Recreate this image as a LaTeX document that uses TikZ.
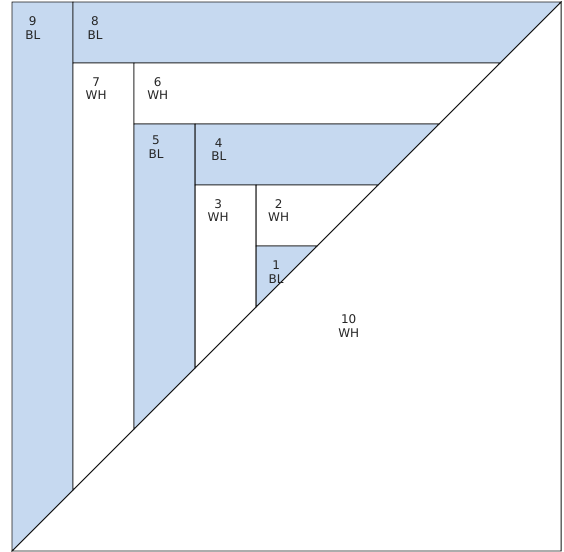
\documentclass[tikz,border=0pt]{standalone}
\usepackage{fontspec}
\setmainfont{DejaVu Sans}
\usetikzlibrary{positioning}
\definecolor{blF}{RGB}{198,217,240}
\definecolor{edge}{RGB}{20,20,20}

\begin{document}
\begin{tikzpicture}[
  x=1cm, y=1cm,
  piece/.style={draw=edge, line width=0.45pt, line join=miter},
  bl/.style={piece, fill=blF},
  wh/.style={piece, fill=white},
  lab/.style={font=\fontsize{5.6}{6.3}\selectfont, align=center, inner sep=0pt, text=black!85},
]
\useasboundingbox (-0.197,-0.016) rectangle (9.049,9.033);

% ---------- pieces ----------
\draw[wh] (0,0) -- (9,0) -- (9,9) -- cycle;
\draw[bl] (0,0) -- (1,1) -- (1,9) -- (0,9) -- cycle;
\draw[bl] (1,8) -- (8,8) -- (9,9) -- (1,9) -- cycle;
\draw[wh] (1,1) -- (2,2) -- (2,8) -- (1,8) -- cycle;
\draw[wh] (2,7) -- (7,7) -- (8,8) -- (2,8) -- cycle;
\draw[bl] (2,2) -- (3,3) -- (3,7) -- (2,7) -- cycle;
\draw[bl] (3,6) -- (6,6) -- (7,7) -- (3,7) -- cycle;
\draw[wh] (3,3) -- (4,4) -- (4,6) -- (3,6) -- cycle;
\draw[wh] (4,5) -- (5,5) -- (6,6) -- (4,6) -- cycle;
\draw[bl] (4,4) -- (5,5) -- (4,5) -- cycle;

% ---------- labels ----------
\node[lab] (p9) at (0.34,8.57) {9\\BL};
\node[lab] (p8) at (1.36,8.57) {8\\BL};
\node[lab] (p7) at (1.38,7.58) {7\\WH};
\node[lab] (p6) at (2.39,7.58) {6\\WH};
\node[lab] (p5) at (2.36,6.62) {5\\BL};
\node[lab] (p4) at (3.39,6.58) {4\\BL};
\node[lab] (p3) at (3.38,5.58) {3\\WH};
\node[lab] (p2) at (4.37,5.58) {2\\WH};
\node[lab] (p1) at (4.33,4.57) {1\\BL};
\node[lab] (p10) at (5.52,3.69) {10\\WH};

\end{tikzpicture}
\end{document}
